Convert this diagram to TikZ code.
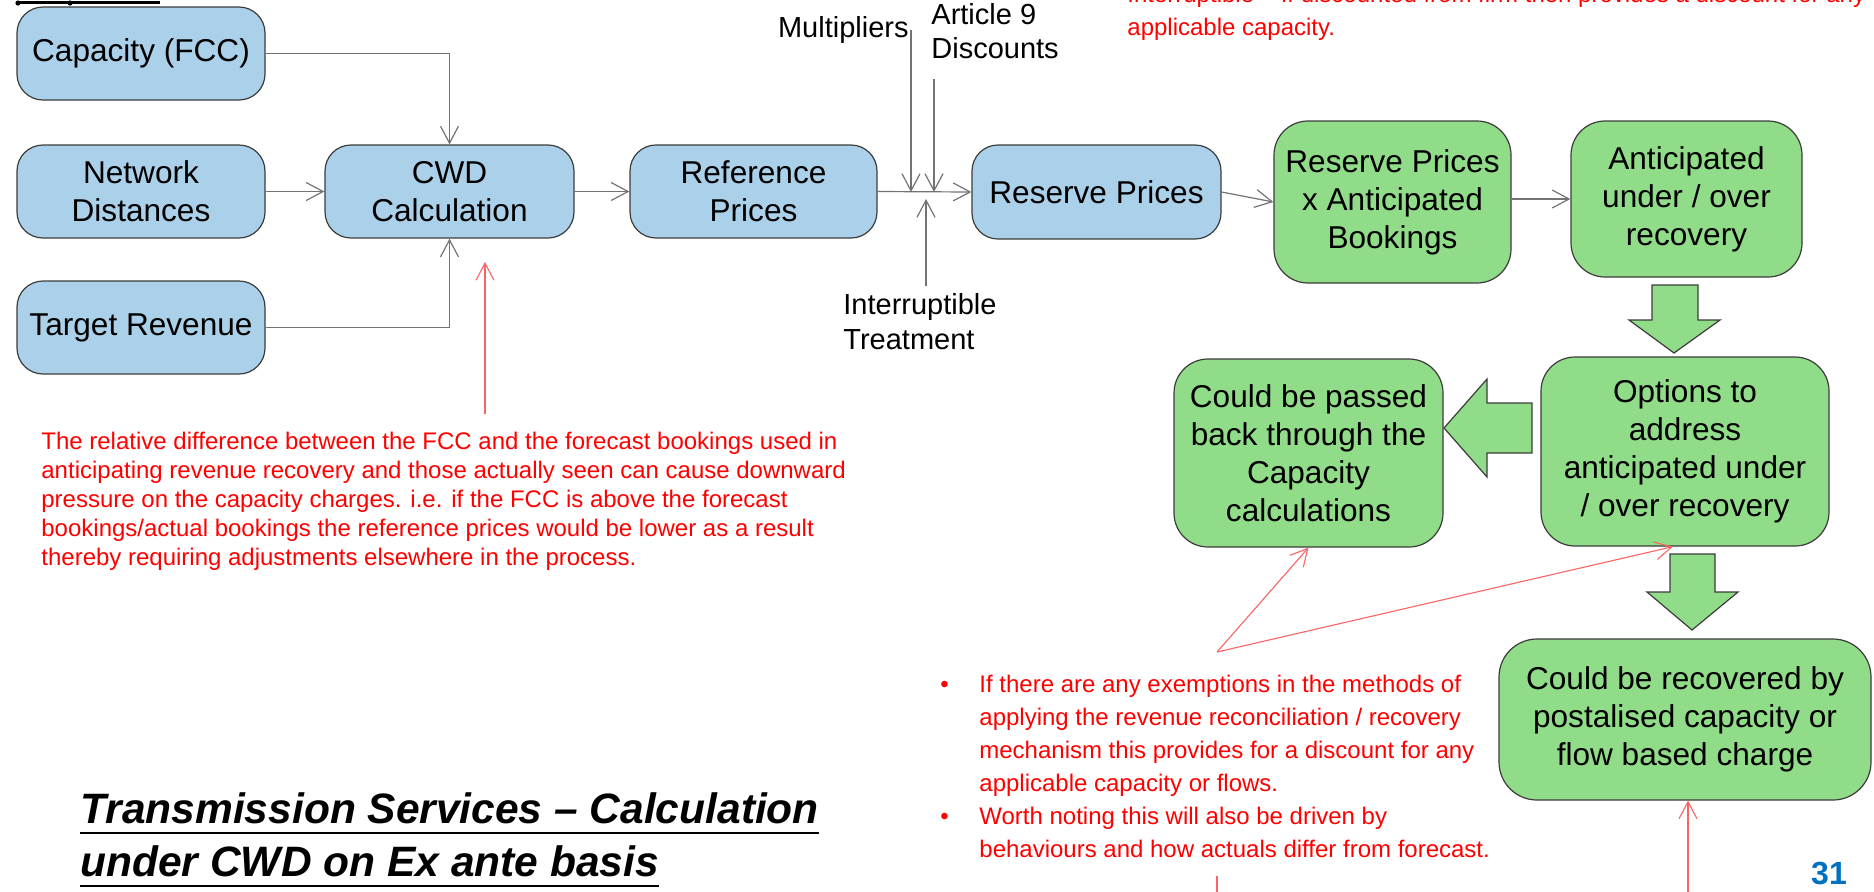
\documentclass[tikz,border=0pt]{standalone}
\usepackage{fontspec}
\setmainfont{Liberation Sans}
\usetikzlibrary{arrows.meta}
\definecolor{boxblue}{RGB}{170,209,233}
\definecolor{boxgreen}{RGB}{145,220,136}
\definecolor{numblue}{RGB}{0,112,192}
\definecolor{redln}{RGB}{250,100,100}
\definecolor{edgegray}{RGB}{60,60,60}
\definecolor{conngray}{RGB}{115,115,115}
\begin{document}
\begin{tikzpicture}[x=0.5pt,y=-0.5pt,
  bluebox/.style={draw=edgegray, line width=0.6pt, fill=boxblue, rounded corners=13pt, align=center, inner sep=0pt, font=\fontsize{15.8}{19}\selectfont},
  greenbox/.style={draw=edgegray, line width=0.6pt, fill=boxgreen, rounded corners=17pt, align=center, inner sep=0pt, font=\fontsize{15.8}{19}\selectfont},
  lbl/.style={inner sep=0pt, align=left, font=\fontsize{14.5}{17.5}\selectfont},
  conn/.style={draw=conngray, line width=0.6pt, -{Straight Barb[length=8.5pt,width=9pt]}},
  redconn/.style={draw=redln, line width=0.55pt, -{Straight Barb[length=8.5pt,width=9pt]}},
  redstub/.style={draw=redln, line width=0.55pt},
  redtxt/.style={text=red, inner sep=0pt, align=left, font=\fontsize{12}{14.5}\selectfont},
  bullettxt/.style={text=red, inner sep=0pt, font=\fontsize{12}{16.5}\selectfont},
  titletxt/.style={inner sep=0pt, anchor=base west, font=\fontsize{21.25}{26}\selectfont\bfseries\itshape},
  blockarrow/.style={draw=edgegray, line width=0.6pt, fill=boxgreen},
]
\useasboundingbox (0,0) rectangle (1874,891);
\clip (0,0) rectangle (1874,891);

% cut-off heading underline at top left
\draw[line width=1.5pt] (17,2) -- (160,2);
\fill (18,3) circle (1.3pt);
\fill (70,3) circle (1.3pt);

% blue boxes
\node[bluebox, minimum width=124pt, minimum height=46.5pt] (cap) at (141,53.5) {Capacity (FCC)};
\node[bluebox, minimum width=124pt, minimum height=46.5pt] (net) at (141,191.5) {Network\\Distances};
\node[bluebox, minimum width=124pt, minimum height=46.5pt] (tgt) at (141,327.5) {Target Revenue};
\node[bluebox, minimum width=124.5pt, minimum height=46.5pt] (cwd) at (449.5,191.5) {CWD\\Calculation};
\node[bluebox, minimum width=123.5pt, minimum height=46.5pt] (ref) at (753.5,191.5) {Reference\\Prices};
\node[bluebox, minimum width=124.5pt, minimum height=47pt] (res) at (1096.5,192) {Reserve Prices};

% green boxes
\node[greenbox, minimum width=118.5pt, minimum height=81pt] (rb) at (1392.5,202) {Reserve Prices\\x Anticipated\\Bookings};
\node[greenbox, minimum width=115.5pt, minimum height=78pt] (ant) at (1686.5,199) {Anticipated\\under / over\\recovery};
\node[greenbox, minimum width=144pt, minimum height=94.5pt] (opt) at (1685,451.5) {Options to\\address\\anticipated under\\/ over recovery};
\node[greenbox, minimum width=134.5pt, minimum height=94pt] (cbp) at (1308.5,453) {Could be passed\\back through the\\Capacity\\calculations};
\node[greenbox, minimum width=186pt, minimum height=80.5pt, rounded corners=19pt] (cbr) at (1685,719.5) {Could be recovered by\\postalised capacity or\\flow based charge};

% labels
\node[lbl, anchor=east] (mult) at (909,30) {Multipliers};
\node[lbl, anchor=west, font=\fontsize{14.5}{17}\selectfont] (art9) at (931,31) {Article 9\\Discounts};
\node[lbl, anchor=west] (intr) at (843,322) {Interruptible\\Treatment};

% junction points on the reference -> reserve line
\coordinate (j1) at (911,192);
\coordinate (j2) at (934,192);
\coordinate (j3) at (926,199);
\coordinate (a9s) at ([yshift=-10pt]art9.south);
\coordinate (its) at ([yshift=3.5pt]intr.north);

% grey connectors
\draw[conn] (cap.east) -| (cwd.north);
\draw[conn] (net.east) -- (cwd.west);
\draw[conn] (tgt.east) -| (cwd.south);
\draw[conn] (cwd.east) -- (ref.west);
\draw[conn] (ref.east) -- (res.west);
\draw[conn] (mult.east -| j1) -- (j1);
\draw[conn] (a9s -| j2) -- (j2);
\draw[conn] (its -| j3) -- (j3);
\draw[conn] (res.east) -- (rb.west);
\draw[conn] (ant.west -| rb.east) -- (ant.west);

% block arrows
\draw[blockarrow] (1652,285) -- (1698,285) -- (1698,320) -- (1720,320) -- (1674,353) -- (1629,320) -- (1652,320) -- cycle;
\draw[blockarrow] (1532,403) -- (1532,453) -- (1487,453) -- (1487,477) -- (1444,428) -- (1487,379) -- (1487,403) -- cycle;
\draw[blockarrow] (1670,554) -- (1715,554) -- (1715,592) -- (1738,592) -- (1692,630) -- (1647,592) -- (1670,592) -- cycle;

% red texts
\node[redtxt, anchor=north west] (rtxt) at (41,432) {The relative difference between the FCC and the forecast bookings used in\\anticipating revenue recovery and those actually seen can cause downward\\pressure on the capacity charges. i.e. if the FCC is above the forecast\\bookings/actual bookings the reference prices would be lower as a result\\thereby requiring adjustments elsewhere in the process.};

\node[bullettxt, anchor=north west] (btxt) at (940,668.5) {\begin{tabular}{@{}p{19.5pt}@{}l@{}}
\textbullet & If there are any exemptions in the methods of\\
 & applying the revenue reconciliation / recovery\\
 & mechanism this provides for a discount for any\\
 & applicable capacity or flows.\\
\textbullet & Worth noting this will also be driven by\\
 & behaviours and how actuals differ from forecast.
\end{tabular}};

\node[bullettxt, anchor=north west] (ttxt) at (1088,-21.5) {\begin{tabular}{@{}p{19.5pt}@{}l@{}}
\textbullet & Interruptible – If discounted from firm then provides a discount for any\\
 & applicable capacity.
\end{tabular}};

% red connectors
\coordinate (rv0) at (485,414);
\coordinate (rv1) at (485,262);
\draw[redconn] (rv0) -- (rv1);
\coordinate (rc) at (1217,652);
\draw[redconn] (rc) -- (cbp.south);
\draw[redconn] (rc) -- ([xshift=-6pt]opt.south);
\coordinate (rs0) at (1217,876);
\coordinate (rs1) at (1217,893);
\draw[redstub] (rs0) -- (rs1);
\coordinate (rb0) at (1688,893);
\draw[redconn] (rb0) -- ([xshift=1.5pt]cbr.south);

% title
\node[titletxt] (t1) at (80,823) {Transmission Services – Calculation};
\node[titletxt] (t2) at (80,876) {under CWD on Ex ante basis};
\draw[line width=1.4pt] ([yshift=-5pt]t1.base west) -- ([yshift=-5pt]t1.base east);
\draw[line width=1.4pt] ([yshift=-5pt]t2.base west) -- ([yshift=-5pt]t2.base east);

% page number
\node[inner sep=0pt, anchor=base, text=numblue, font=\fontsize{16}{19}\selectfont\bfseries] (pg) at (1829,884.5) {31};
\end{tikzpicture}
\end{document}
